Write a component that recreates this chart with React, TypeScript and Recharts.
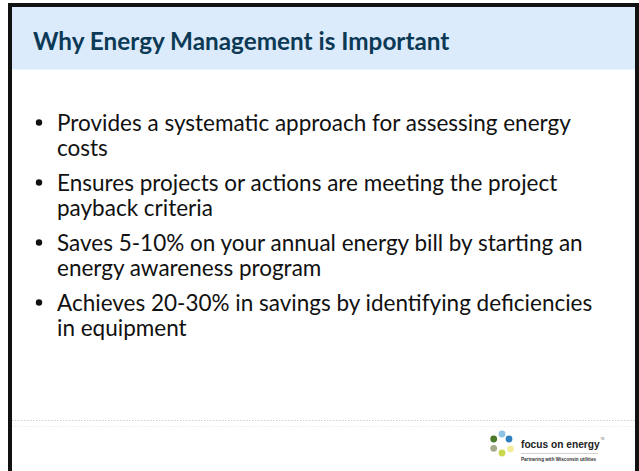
import React from 'react';
import { ScatterChart, Scatter, XAxis, YAxis, ReferenceLine, Customized } from 'recharts';

const W = 639;
const H = 471;

const title = 'Why Energy Management is Important';

const bulletLines: string[][] = [
  ['Provides a systematic approach for assessing energy', 'costs'],
  ['Ensures projects or actions are meeting the project', 'payback criteria'],
  ['Saves 5-10% on your annual energy bill by starting an', 'energy awareness program'],
  ['Achieves 20-30% in savings by identifying deficiencies', 'in equipment'],
];

const logoName = 'focus on energy';
const logoTagline = 'Partnering with Wisconsin utilities';
// six dots of the logo, clockwise from the top
const logoDots = [
  { dx: 0, dy: 0, color: '#8fc3e6' },
  { dx: 7, dy: 5, color: '#2f7fc0' },
  { dx: 8.5, dy: 15, color: '#f3ec9a' },
  { dx: 0, dy: 19, color: '#cbd84b' },
  { dx: -8.3, dy: 14.3, color: '#a3ab8c' },
  { dx: -8.3, dy: 5, color: '#4b7a2c' },
];

const FONT = 'Lato, "Open Sans", sans-serif';
const LOGO_FONT = "'Liberation Sans', Arial, sans-serif";
const TEXT_X = 57;
const FIRST_BASELINE = 131;
const LINE = 25;
const GAP = 10;

const rows = bulletLines.flatMap((lines, bi) =>
  lines.map((text, li) => ({
    x: TEXT_X,
    y: FIRST_BASELINE + bi * (lines.length * LINE + GAP) + li * LINE,
    text,
    first: li === 0,
  }))
);

const BulletLine = (props: any) => {
  const { cx, cy, payload } = props;
  return (
    <g>
      {payload.first && <circle cx={cx - 18} cy={cy - 8.5} r={3.2} fill="#111" />}
      <text x={cx} y={cy} fontFamily={FONT} fontSize={22.5} fill="#111">
        {payload.text}
      </text>
    </g>
  );
};

const Title = () => (
  <text x={33} y={50} fontFamily={FONT} fontWeight={700} fontSize={24.3} fill="#0c3a56">
    {title}
  </text>
);

const Logo = () => {
  const ox = 502, oy = 434;
  return (
    <g>
      {logoDots.map((d, i) => (
        <circle key={i} cx={ox + d.dx} cy={oy + d.dy} r={3.4} fill={d.color} />
      ))}
      <text x={521} y={448} fontFamily={LOGO_FONT} fontWeight={700} fontSize={10.2} fill="#222">
        {logoName}
      </text>
      <text x={600.5} y={440} fontFamily={LOGO_FONT} fontSize={2.6} fill="#666">TM</text>
      <line x1={521} x2={598} y1={453.5} y2={453.5} stroke="#c8c8c8" strokeWidth={0.8} />
      <text x={521} y={460.5} fontFamily={LOGO_FONT} fontWeight={700} fontSize={4.6} fill="#333">
        {logoTagline}
      </text>
    </g>
  );
};

export default function App() {
  return (
    <div style={{ position: 'absolute', left: 0, top: 0, width: W, height: H, background: '#fff', overflow: 'hidden' }}>
      <div
        style={{
          position: 'absolute',
          left: 8,
          top: 3,
          width: W - 8,
          height: H - 3,
          border: '4px solid #111',
          borderBottom: 'none',
          boxSizing: 'border-box',
        }}
      >
        <div style={{ height: 62, background: '#dcebfb', borderBottom: '1px solid #e6f6fa' }} />
      </div>
      <div style={{ position: 'absolute', left: 0, top: 0 }}>
        <ScatterChart width={W} height={H} margin={{ top: 0, right: 0, bottom: 0, left: 0 }}>
          <XAxis type="number" dataKey="x" domain={[0, W]} hide />
          <YAxis type="number" dataKey="y" domain={[0, H]} reversed hide />
          <ReferenceLine
            segment={[{ x: 12, y: 420.5 }, { x: 635, y: 420.5 }]}
            stroke="#cfcfcf"
            strokeDasharray="1.5 1.5"
            ifOverflow="visible"
          />
          <ReferenceLine
            segment={[{ x: 12, y: 426.5 }, { x: 635, y: 426.5 }]}
            stroke="#ececec"
            strokeDasharray="1.5 1.5"
            ifOverflow="visible"
          />
          <Scatter data={rows} shape={<BulletLine />} isAnimationActive={false} />
          <Customized component={<Title />} />
          <Customized component={<Logo />} />
        </ScatterChart>
      </div>
    </div>
  );
}
